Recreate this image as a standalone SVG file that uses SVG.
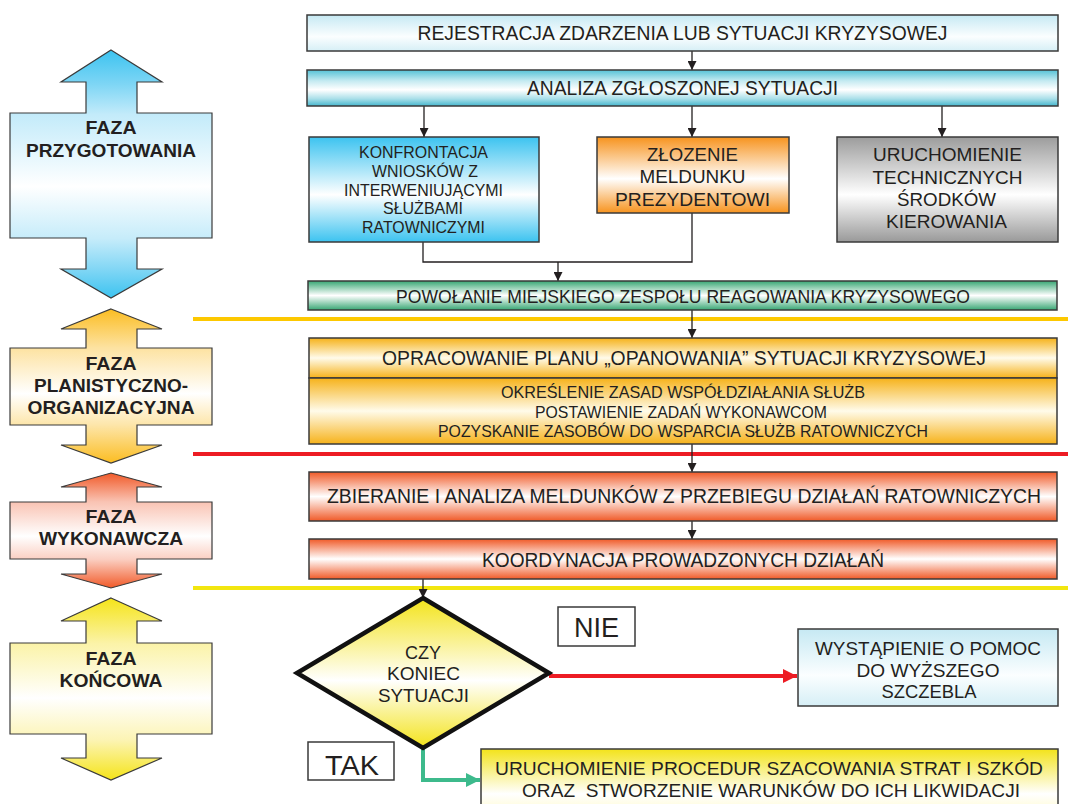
<svg xmlns="http://www.w3.org/2000/svg" width="1068" height="804" viewBox="0 0 1068 804">
<defs>
<style>
text{font-family:"Liberation Sans",Arial,sans-serif;fill:#231f20;text-anchor:middle}
.ph{font-weight:bold;font-size:18px}
.box{stroke:#3a3a3a;stroke-width:1.5}
.arr{stroke:#3a3a3a;stroke-width:1.2}
.con{fill:none;stroke:#231f20;stroke-width:1.3}
.sep{stroke-width:4}
</style>
<marker id="ah" viewBox="0 0 10 10" refX="10" refY="5" markerWidth="10" markerHeight="9" markerUnits="userSpaceOnUse" orient="auto"><path d="M0,0 L10,5 L0,10 z" fill="#231f20"/></marker>
<marker id="ahr" viewBox="0 0 10 10" refX="10" refY="5" markerWidth="15" markerHeight="14" markerUnits="userSpaceOnUse" orient="auto"><path d="M0,0 L10,5 L0,10 z" fill="#ed1c24"/></marker>
<marker id="ahg" viewBox="0 0 10 10" refX="10" refY="5" markerWidth="15" markerHeight="14" markerUnits="userSpaceOnUse" orient="auto"><path d="M0,0 L10,5 L0,10 z" fill="#3dba8c"/></marker>
<linearGradient id="gCyanL" x1="0" y1="0" x2="0" y2="1"><stop offset="0" stop-color="#c6e9f3"/><stop offset="0.6" stop-color="#fbfeff"/><stop offset="1" stop-color="#d6eff6"/></linearGradient>
<linearGradient id="gTeal" x1="0" y1="0" x2="0" y2="1"><stop offset="0" stop-color="#55c2d7"/><stop offset="0.3" stop-color="#c4eaf1"/><stop offset="0.55" stop-color="#ffffff"/><stop offset="0.8" stop-color="#a9dfe9"/><stop offset="1" stop-color="#45b6cd"/></linearGradient>
<linearGradient id="gBlue" x1="0" y1="0" x2="0" y2="1"><stop offset="0" stop-color="#3cc3f0"/><stop offset="0.55" stop-color="#ffffff"/><stop offset="1" stop-color="#3cc3f0"/></linearGradient>
<linearGradient id="gOrange" x1="0" y1="0" x2="0" y2="1"><stop offset="0" stop-color="#f7931e"/><stop offset="0.55" stop-color="#ffffff"/><stop offset="1" stop-color="#f7931e"/></linearGradient>
<linearGradient id="gGray" x1="0" y1="0" x2="0" y2="1"><stop offset="0" stop-color="#9c9c9c"/><stop offset="0.55" stop-color="#ffffff"/><stop offset="1" stop-color="#999999"/></linearGradient>
<linearGradient id="gGreen" x1="0" y1="0" x2="0" y2="1"><stop offset="0" stop-color="#38a774"/><stop offset="0.5" stop-color="#ffffff"/><stop offset="1" stop-color="#38a774"/></linearGradient>
<linearGradient id="gGold" x1="0" y1="0" x2="0" y2="1"><stop offset="0" stop-color="#f6b21a"/><stop offset="0.5" stop-color="#fffbea"/><stop offset="1" stop-color="#f6b21a"/></linearGradient>
<linearGradient id="gRed" x1="0" y1="0" x2="0" y2="1"><stop offset="0" stop-color="#f05a28"/><stop offset="0.5" stop-color="#ffffff"/><stop offset="1" stop-color="#f05a28"/></linearGradient>
<linearGradient id="gYel" x1="0" y1="0" x2="0" y2="1"><stop offset="0" stop-color="#f3e31a"/><stop offset="0.55" stop-color="#ffffff"/><stop offset="1" stop-color="#f3e31a"/></linearGradient>
<linearGradient id="gYelTop" x1="0" y1="0" x2="0" y2="1"><stop offset="0" stop-color="#f3e31a"/><stop offset="0.7" stop-color="#ffffff"/><stop offset="1" stop-color="#fffbd0"/></linearGradient>
<linearGradient id="aBlue" x1="0" y1="0" x2="0" y2="1"><stop offset="0" stop-color="#3cc3f0"/><stop offset="0.14" stop-color="#7fd6f5"/><stop offset="0.26" stop-color="#c3ebfa"/><stop offset="0.55" stop-color="#ffffff"/><stop offset="0.76" stop-color="#c6ecfa"/><stop offset="0.88" stop-color="#84d7f5"/><stop offset="1" stop-color="#3cc3f0"/></linearGradient>
<linearGradient id="aGold" x1="0" y1="0" x2="0" y2="1"><stop offset="0" stop-color="#fbbd22"/><stop offset="0.25" stop-color="#fde2a0"/><stop offset="0.55" stop-color="#ffffff"/><stop offset="0.75" stop-color="#fde6ab"/><stop offset="1" stop-color="#fbbd22"/></linearGradient>
<linearGradient id="aRed" x1="0" y1="0" x2="0" y2="1"><stop offset="0" stop-color="#f15a29"/><stop offset="0.25" stop-color="#f9c3b3"/><stop offset="0.55" stop-color="#ffffff"/><stop offset="0.75" stop-color="#fbcfc2"/><stop offset="1" stop-color="#f15a29"/></linearGradient>
<linearGradient id="aYel" x1="0" y1="0" x2="0" y2="1"><stop offset="0" stop-color="#f5e419"/><stop offset="0.25" stop-color="#fbf3a8"/><stop offset="0.55" stop-color="#ffffff"/><stop offset="0.78" stop-color="#fcf4b4"/><stop offset="1" stop-color="#f5e419"/></linearGradient>
</defs>
<rect width="1068" height="804" fill="#ffffff"/>

<g id="separators">
<line class="sep" x1="193" y1="319" x2="1068" y2="319" stroke="#fdc800"/>
<line class="sep" x1="193" y1="454" x2="1068" y2="454" stroke="#ed1c24"/>
<line class="sep" x1="193" y1="588" x2="1068" y2="588" stroke="#f2e60f"/>
</g>

<g id="phase-przygotowania">
<polygon class="arr" fill="url(#aBlue)" points="111,50 162,82 137,82 137,113 212,113 212,238 137,238 137,269 162,269 111,298 61,269 86,269 86,238 10,238 10,113 86,113 86,82 61,82"/>
<text class="ph" x="111" y="134" textLength="51" lengthAdjust="spacingAndGlyphs">FAZA</text>
<text class="ph" x="111" y="157" textLength="170" lengthAdjust="spacingAndGlyphs">PRZYGOTOWANIA</text>
</g>
<g id="phase-planistyczno">
<polygon class="arr" fill="url(#aGold)" points="111,309 162,329 137,329 137,348 212,348 212,425 137,425 137,445 162,445 111,463 61,445 86,445 86,425 10,425 10,348 86,348 86,329 61,329"/>
<text class="ph" x="111" y="369.5" textLength="51" lengthAdjust="spacingAndGlyphs">FAZA</text>
<text class="ph" x="111" y="391.5" textLength="154" lengthAdjust="spacingAndGlyphs">PLANISTYCZNO-</text>
<text class="ph" x="111" y="414" textLength="167" lengthAdjust="spacingAndGlyphs">ORGANIZACYJNA</text>
</g>
<g id="phase-wykonawcza">
<polygon class="arr" fill="url(#aRed)" points="111,473 162,487 137,487 137,502 212,502 212,559 137,559 137,574 162,574 111,588 61,574 86,574 86,559 10,559 10,502 86,502 86,487 61,487"/>
<text class="ph" x="111" y="523" textLength="51" lengthAdjust="spacingAndGlyphs">FAZA</text>
<text class="ph" x="111" y="545" textLength="144" lengthAdjust="spacingAndGlyphs">WYKONAWCZA</text>
</g>
<g id="phase-koncowa">
<polygon class="arr" fill="url(#aYel)" points="111,598 162,621 137,621 137,643 212,643 212,734 137,734 137,758 162,758 111,780 61,758 86,758 86,734 10,734 10,643 86,643 86,621 61,621"/>
<text class="ph" x="111" y="664.5" textLength="51" lengthAdjust="spacingAndGlyphs">FAZA</text>
<text class="ph" x="111" y="686.5" textLength="103" lengthAdjust="spacingAndGlyphs">KOŃCOWA</text>
</g>

<g id="connectors">
<line class="con" x1="692" y1="51" x2="692" y2="70" marker-end="url(#ah)"/>
<line class="con" x1="424" y1="106" x2="424" y2="137" marker-end="url(#ah)"/>
<line class="con" x1="692" y1="106" x2="692" y2="137" marker-end="url(#ah)"/>
<line class="con" x1="942" y1="106" x2="942" y2="137" marker-end="url(#ah)"/>
<polyline class="con" points="423,242 423,262 692,262 692,213"/>
<line class="con" x1="558" y1="262" x2="558" y2="281" marker-end="url(#ah)"/>
<line class="con" x1="692" y1="310" x2="692" y2="338" marker-end="url(#ah)"/>
<line class="con" x1="692" y1="444" x2="692" y2="472" marker-end="url(#ah)"/>
<line class="con" x1="692" y1="521" x2="692" y2="539" marker-end="url(#ah)"/>
<line class="con" x1="423" y1="579" x2="423" y2="598" marker-end="url(#ah)"/>
<line x1="549" y1="676" x2="797" y2="676" stroke="#ed1c24" stroke-width="4" marker-end="url(#ahr)"/>
<polyline points="423,748 423,780 480,780" fill="none" stroke="#3dba8c" stroke-width="4" marker-end="url(#ahg)"/>
</g>

<g id="n-rejestracja">
<rect class="box" x="307" y="15" width="751" height="36" fill="url(#gCyanL)"/>
<text x="682.5" y="40" font-size="20" textLength="530" lengthAdjust="spacingAndGlyphs">REJESTRACJA ZDARZENIA LUB SYTUACJI KRYZYSOWEJ</text>
</g>
<g id="n-analiza">
<rect class="box" x="307" y="70" width="751" height="36" fill="url(#gTeal)"/>
<text x="682.5" y="95" font-size="20" textLength="311" lengthAdjust="spacingAndGlyphs">ANALIZA ZGŁOSZONEJ SYTUACJI</text>
</g>
<g id="n-konfrontacja">
<rect class="box" x="309" y="137" width="230" height="105" fill="url(#gBlue)"/>
<g font-size="15.7">
<text x="423.5" y="158" textLength="129" lengthAdjust="spacingAndGlyphs">KONFRONTACJA</text>
<text x="425" y="176.6" textLength="106" lengthAdjust="spacingAndGlyphs">WNIOSKÓW Z</text>
<text x="423.5" y="195.6" textLength="159" lengthAdjust="spacingAndGlyphs">INTERWENIUJĄCYMI</text>
<text x="423" y="214" textLength="80" lengthAdjust="spacingAndGlyphs">SŁUŻBAMI</text>
<text x="423.5" y="232.6" textLength="123" lengthAdjust="spacingAndGlyphs">RATOWNICZYMI</text>
</g>
</g>
<g id="n-zlozenie">
<rect class="box" x="597" y="137" width="192" height="76" fill="url(#gOrange)"/>
<g font-size="19">
<text x="692.5" y="160.8" textLength="91" lengthAdjust="spacingAndGlyphs">ZŁOZENIE</text>
<text x="692.5" y="183.3" textLength="106" lengthAdjust="spacingAndGlyphs">MELDUNKU</text>
<text x="692.5" y="205.8" textLength="155" lengthAdjust="spacingAndGlyphs">PREZYDENTOWI</text>
</g>
</g>
<g id="n-uruchomienie-srodkow">
<rect class="box" x="837" y="137" width="221" height="105" fill="url(#gGray)"/>
<g font-size="19">
<text x="947.5" y="160.8" textLength="149" lengthAdjust="spacingAndGlyphs">URUCHOMIENIE</text>
<text x="947.5" y="183.8" textLength="150" lengthAdjust="spacingAndGlyphs">TECHNICZNYCH</text>
<text x="946.5" y="205.8" textLength="99" lengthAdjust="spacingAndGlyphs">ŚRODKÓW</text>
<text x="946.5" y="227.8" textLength="121" lengthAdjust="spacingAndGlyphs">KIEROWANIA</text>
</g>
</g>
<g id="n-powolanie">
<rect class="box" x="308" y="281" width="749" height="29" fill="url(#gGreen)"/>
<text x="683" y="302.8" font-size="17.5" textLength="574" lengthAdjust="spacingAndGlyphs">POWOŁANIE MIEJSKIEGO ZESPOŁU REAGOWANIA KRYZYSOWEGO</text>
</g>
<g id="n-opracowanie">
<rect class="box" x="309" y="338" width="748" height="40" fill="url(#gGold)"/>
<text x="684" y="365" font-size="20" textLength="604" lengthAdjust="spacingAndGlyphs">OPRACOWANIE PLANU „OPANOWANIA” SYTUACJI KRYZYSOWEJ</text>
</g>
<g id="n-okreslenie">
<rect class="box" x="309" y="378" width="748" height="66" fill="url(#gGold)"/>
<g font-size="16.5">
<text x="683" y="398" textLength="364" lengthAdjust="spacingAndGlyphs">OKREŚLENIE ZASAD WSPÓŁDZIAŁANIA SŁUŻB</text>
<text x="681" y="417.5" textLength="292" lengthAdjust="spacingAndGlyphs">POSTAWIENIE ZADAŃ WYKONAWCOM</text>
<text x="683" y="436.5" textLength="490" lengthAdjust="spacingAndGlyphs">POZYSKANIE ZASOBÓW DO WSPARCIA SŁUŻB RATOWNICZYCH</text>
</g>
</g>
<g id="n-zbieranie">
<rect class="box" x="309" y="472" width="748" height="49" fill="url(#gRed)"/>
<text x="684" y="503" font-size="19.5" textLength="714" lengthAdjust="spacingAndGlyphs">ZBIERANIE I ANALIZA MELDUNKÓW Z PRZEBIEGU DZIAŁAŃ RATOWNICZYCH</text>
</g>
<g id="n-koordynacja">
<rect class="box" x="309" y="539" width="748" height="40" fill="url(#gRed)"/>
<text x="683" y="566.8" font-size="20.5" textLength="402" lengthAdjust="spacingAndGlyphs">KOORDYNACJA PROWADZONYCH DZIAŁAŃ</text>
</g>
<g id="n-decyzja">
<polygon points="423,598 549,673 423,748 297,673" fill="url(#gYel)" stroke="#111111" stroke-width="4.5" stroke-linejoin="miter"/>
<g font-size="18.5">
<text x="423" y="658.6" textLength="36" lengthAdjust="spacingAndGlyphs">CZY</text>
<text x="423.5" y="679.6" textLength="73" lengthAdjust="spacingAndGlyphs">KONIEC</text>
<text x="423.5" y="701.6" textLength="91" lengthAdjust="spacingAndGlyphs">SYTUACJI</text>
</g>
</g>
<g id="n-nie">
<rect x="558" y="607" width="77" height="39" fill="#ffffff" stroke="#3a3a3a" stroke-width="1.5"/>
<text x="596.5" y="637" font-size="27" textLength="45" lengthAdjust="spacingAndGlyphs">NIE</text>
</g>
<g id="n-wystapienie">
<rect class="box" x="798" y="629" width="260" height="77" fill="url(#gCyanL)"/>
<g font-size="18.9">
<text x="928" y="654.8" textLength="226" lengthAdjust="spacingAndGlyphs">WYSTĄPIENIE O POMOC</text>
<text x="928" y="676.8" textLength="143" lengthAdjust="spacingAndGlyphs">DO WYŻSZEGO</text>
<text x="929" y="698.3" textLength="95" lengthAdjust="spacingAndGlyphs">SZCZEBLA</text>
</g>
</g>
<g id="n-tak">
<rect x="308" y="742" width="86" height="38" fill="#ffffff" stroke="#3a3a3a" stroke-width="1.5"/>
<text x="352" y="775" font-size="27.8" textLength="54" lengthAdjust="spacingAndGlyphs">TAK</text>
</g>
<g id="n-uruchomienie-procedur">
<rect class="box" x="481" y="749" width="577" height="64" fill="url(#gYelTop)"/>
<g font-size="19">
<text x="769" y="775" textLength="548" lengthAdjust="spacingAndGlyphs">URUCHOMIENIE PROCEDUR SZACOWANIA STRAT I SZKÓD</text>
<text x="771" y="797" style="white-space:pre" textLength="498" lengthAdjust="spacingAndGlyphs">ORAZ  STWORZENIE WARUNKÓW DO ICH LIKWIDACJI</text>
</g>
</g>
</svg>
